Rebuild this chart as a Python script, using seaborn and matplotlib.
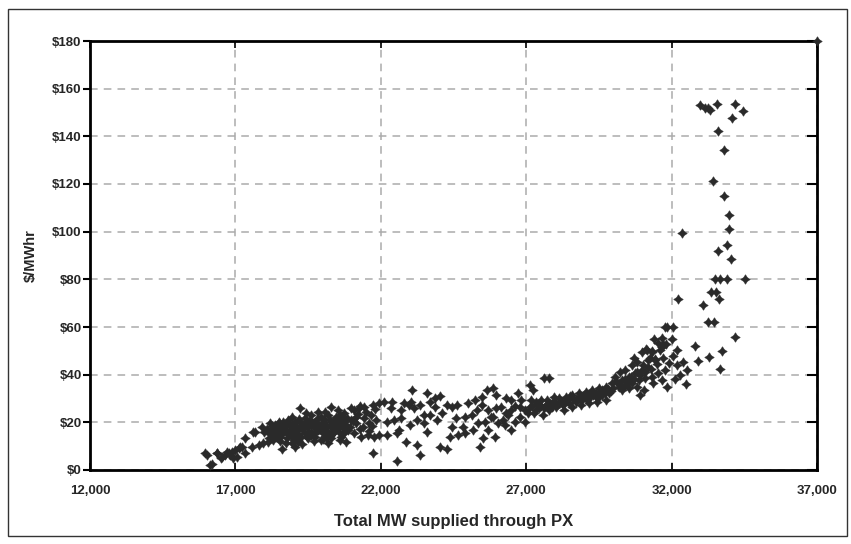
import numpy as np
import pandas as pd
import matplotlib
matplotlib.use("Agg")
from matplotlib import pyplot as plt
from matplotlib.path import Path
from matplotlib.patches import Rectangle
import seaborn as sns

# points, grouped by stretch of the curve
# (MW supplied, $/MWhr)
low_pts = [
  (15955, 7.1), (16034, 6.3), (16127, 2.1), (16205, 2.6), (16367, 7.1), (16375, 7.0),
  (16489, 4.9), (16546, 5.6), (16659, 6.3), (16711, 7.6), (16773, 7.3), (16830, 6.3),
  (16886, 7.7), (16917, 5.0), (17000, 8.4), (17057, 5.6), (17114, 9.1), (17158, 9.7),
  (17227, 9.8), (17318, 13.3), (17341, 7.0), (17605, 16.0), (17682, 16.1),
]

band_a_pts = [
  (17568, 9.8), (17795, 10.5), (17966, 11.2), (18136, 11.9), (18306, 12.6), (18477, 13.3),
  (18590, 8.7), (18193, 19.6), (18363, 18.9), (18534, 19.3), (18704, 18.9), (18818, 19.6),
  (18250, 16.8), (18420, 16.1), (18590, 16.8), (18760, 15.4), (18931, 16.8), (18306, 14.7),
  (18534, 14.0), (18760, 13.3), (18931, 14.0), (19045, 9.8), (18931, 11.2), (19159, 11.9),
  (19215, 25.9), (18477, 18.2), (18647, 20.3), (18100, 17.0), (18200, 15.0), (18400, 17.5),
  (18600, 15.0), (18700, 17.0), (18900, 18.0), (18500, 20.0), (18800, 21.0), (18931, 22.4),
  (19045, 20.3), (19272, 19.6), (19500, 18.2), (19727, 20.3), (19954, 22.4), (20068, 24.5),
  (20295, 26.6), (20522, 25.2), (20750, 23.8), (20977, 25.9), (19386, 21.7), (19613, 23.1),
  (19841, 24.5), (19159, 16.8), (19386, 15.4), (19613, 16.1), (19841, 16.8), (20068, 17.5),
  (20295, 18.2), (20522, 19.6), (20750, 20.3), (19272, 14.0), (19500, 13.3), (19727, 14.0),
  (19954, 12.6), (20181, 11.2), (20125, 14.0), (20352, 15.4), (20579, 16.1), (20806, 11.9),
  (20636, 14.0), (20863, 16.8), (20977, 21.0), (19159, 13.3), (19045, 14.7), (19556, 19.6),
  (19784, 18.9), (20011, 20.3), (20238, 21.0), (20465, 22.4), (20693, 21.7), (19443, 23.8),
  (19100, 18.0), (19300, 17.0), (19500, 16.0), (19700, 18.0), (19900, 17.0), (20100, 19.0),
  (20300, 20.0), (20500, 18.0), (20700, 17.5), (19200, 21.5), (19400, 20.0), (19800, 21.5),
  (20200, 23.0), (20400, 21.0), (20600, 23.0), (19000, 16.0), (19600, 14.5), (20000, 15.5),
  (20400, 16.0), (20800, 19.0), (18150, 13.5), (18350, 15.5), (18450, 19.5), (18650, 18.5),
  (18850, 15.0), (18950, 19.5), (19050, 17.5), (19150, 15.0), (19250, 19.0), (19350, 18.5),
  (19450, 14.0), (19550, 21.0), (19650, 19.5), (19750, 15.5), (19850, 19.5), (19950, 18.5),
  (20050, 21.5), (20150, 16.5), (20250, 14.5), (20350, 19.5), (20450, 17.0), (20550, 21.0),
  (20650, 19.0), (20750, 15.5), (20850, 22.0), (20950, 18.0), (18000, 16.0), (17900, 18.0),
  (18250, 18.5), (18550, 12.0), (18750, 11.5), (19000, 12.5), (19300, 11.0), (19700, 12.0),
  (20000, 13.0), (20300, 13.5), (20600, 12.5),
]

band_b_pts = [
  (21091, 25.2), (21261, 25.9), (21432, 26.6), (21716, 27.3), (21943, 28.0), (21148, 22.4),
  (21432, 21.7), (21659, 23.1), (21829, 21.0), (21148, 19.6), (21375, 18.2), (21602, 19.6),
  (21091, 15.4), (21318, 14.0), (21545, 14.7), (21773, 14.0), (21943, 14.7), (21716, 7.0),
  (22113, 28.7), (22397, 28.7), (22681, 25.2), (22454, 21.0), (22227, 14.7), (22568, 15.4),
  (22625, 16.8), (22852, 11.9), (22568, 3.9), (23250, 10.5), (23363, 6.3), (23079, 33.6),
  (22965, 27.3), (23136, 25.9), (23363, 27.3), (23590, 32.2), (23704, 28.7), (23874, 26.6),
  (23477, 23.1), (23704, 23.1), (23250, 21.0), (23477, 19.6), (23590, 16.1), (23022, 28.7),
  (22795, 28.0), (22341, 25.9), (23931, 21.0), (24045, 31.1), (23875, 30.1),
  (24272, 27.3), (24443, 26.6), (24613, 27.3), (24443, 18.2), (24386, 14.0), (24670, 14.7),
  (24045, 9.8), (24272, 8.7), (24840, 18.2), (24897, 22.4), (25125, 23.1), (25011, 28.0),
  (25238, 29.4), (25465, 30.8), (25636, 33.6), (25863, 34.3), (25465, 27.3), (25693, 25.2),
  (25806, 22.4), (25579, 20.3), (25352, 19.6), (25181, 16.8), (25522, 13.3), (25409, 9.8),
  (25920, 14.0), (26034, 19.6), (26204, 21.0), (26375, 23.1), (26488, 16.8), (26318, 30.1),
  (26488, 29.4), (26716, 32.2), (26829, 29.4), (26943, 25.2), (26773, 22.4), (26602, 20.3),
  (25977, 25.9), (26148, 26.6), (25977, 31.5), (26488, 25.2), (26261, 18.9), (25863, 22.4),
  (25693, 16.8), (24897, 15.4), (26943, 20.3), (21050, 20.5), (21200, 23.5), (21300, 17.0),
  (21500, 24.5), (21600, 16.5), (21800, 25.5), (21300, 26.8), (21700, 18.5), (22200, 20.0),
  (22700, 22.0), (23000, 19.0), (24600, 22.0), (24100, 24.0), (25300, 25.0), (26600, 27.0),
  (26300, 24.0), (26800, 26.5),
]

band_c_pts = [
  (27114, 35.7), (27227, 33.6), (27625, 38.5), (27795, 38.5), (27511, 29.4), (27114, 26.6),
  (27284, 23.8), (27454, 25.9), (27681, 27.3), (27909, 28.7), (28136, 30.1), (28363, 30.8),
  (28590, 31.5), (28818, 32.2), (29045, 32.9), (29272, 33.6), (29500, 34.3), (29727, 35.0),
  (29954, 36.4), (27795, 25.2), (28022, 26.6), (28250, 27.3), (28477, 28.0), (28704, 28.7),
  (28931, 29.4), (29159, 30.1), (29386, 30.8), (29613, 31.5), (29840, 32.2), (28306, 25.2),
  (28590, 26.6), (28874, 27.3), (29159, 28.0), (29443, 28.7), (29727, 29.4), (27341, 28.7),
  (27568, 23.1), (27966, 30.8), (28477, 30.1), (29045, 30.8), (29556, 32.9), (27200, 27.0),
  (27400, 27.5), (27600, 26.0), (27800, 28.0), (28000, 28.5), (28200, 29.0), (28400, 29.5),
  (28600, 30.0), (28800, 30.5), (29000, 31.5), (29200, 32.0), (29400, 32.5), (29600, 33.5),
  (29800, 34.0), (30000, 34.5), (30200, 36.0), (30400, 38.0), (30600, 39.0), (30800, 41.0),
  (31000, 44.0), (31200, 46.0),
  (30068, 39.2), (30238, 41.3), (30409, 42.0), (30636, 44.1), (30806, 45.5), (30977, 49.7),
  (31148, 50.4), (31318, 49.7), (31545, 53.2), (31659, 55.3), (31773, 59.9), (30295, 37.8),
  (30522, 39.2), (30750, 40.6), (30977, 42.0), (31204, 43.4), (31431, 46.2), (30181, 35.0),
  (30409, 35.7), (30636, 36.4), (30863, 37.8), (31091, 38.5), (31318, 39.2), (31545, 40.6),
  (31773, 42.0), (30295, 33.6), (30522, 34.3), (30806, 35.0), (30920, 31.5), (31034, 33.6),
  (31375, 36.4), (31659, 37.8), (31829, 35.0), (31261, 46.9), (31602, 50.4),
  (27050, 24.0), (27150, 29.5), (27350, 25.0), (27500, 27.0), (27700, 29.5), (27900, 26.5),
  (28100, 27.5), (28300, 28.5), (28500, 31.0), (28700, 29.5), (28900, 31.0), (29100, 29.5),
  (29300, 31.5), (29500, 30.5), (29700, 32.5), (29900, 33.0), (30100, 37.5), (30300, 35.0),
  (30500, 37.0), (30700, 38.0), (30900, 40.0), (31100, 41.0), (31300, 42.5), (31500, 44.5),
  (31700, 47.0), (31900, 45.0), (32050, 48.0), (31400, 55.0), (31800, 53.0), (30700, 47.0),
]

spike_pts = [
  (32977, 153.2), (33148, 151.9), (33252, 151.9), (33320, 151.0), (33562, 153.6), (34180, 153.6),
  (34456, 150.6), (34077, 147.7), (33596, 142.3), (33803, 134.3), (33424, 121.3), (33803, 115.0),
  (33974, 107.0), (33974, 101.0), (32358, 99.5), (33905, 94.4), (33596, 91.9), (34043, 88.5),
  (33492, 80.2), (33665, 80.2), (33905, 80.2), (34525, 80.2), (33355, 74.7), (33527, 74.7),
  (33630, 71.8), (32220, 71.8), (33080, 69.2), (33252, 62.1), (33458, 62.1), (34180, 55.8),
  (31842, 60.0), (32048, 60.0), (32014, 55.0), (32805, 52.0), (33733, 50.0), (31705, 53.0),
  (32908, 45.7), (33286, 47.4), (33665, 42.4), (32392, 45.3), (32530, 42.0), (32186, 50.4),
  (31120, 50.8), (31326, 50.0), (31430, 46.6), (31670, 51.6), (32100, 38.0), (32300, 40.0),
  (32500, 36.0), (32200, 44.0), (37000, 180.0),
]

x_ticks = [12000, 17000, 22000, 27000, 32000, 37000]
y_ticks = [0, 20, 40, 60, 80, 100, 120, 140, 160, 180]

all_pts = low_pts + band_a_pts + band_b_pts + band_c_pts + spike_pts
df = pd.DataFrame(all_pts, columns=["mw", "price"])

sns.set_style("white")
plt.rcParams['font.family'] = ['Liberation Sans', 'DejaVu Sans']
plt.rcParams['text.parse_math'] = False

# fat four-point diamond like the original symbols
star = Path([(0, 1), (0.4, 0.4), (1, 0), (0.4, -0.4), (0, -1),
             (-0.4, -0.4), (-1, 0), (-0.4, 0.4), (0, 1)], closed=True)

fig = plt.figure(figsize=(8.51, 5.44), dpi=100)
ax = fig.add_axes([90/851, 1 - 470/544, (817 - 90)/851, (470 - 41)/544])

sns.scatterplot(data=df, x="mw", y="price", marker=star, s=48,
                color="#2a2a2a", edgecolor="#2a2a2a", linewidth=0.3, ax=ax,
                zorder=3, clip_on=False)

ax.set_xlim(12000, 37000)
ax.set_ylim(0, 180)
ax.set_xticks(x_ticks)
ax.set_yticks(y_ticks)
ax.set_xticklabels([f"{v:,}" for v in x_ticks], fontweight="bold", fontsize=9.5)
ax.set_yticklabels([f"${v}" for v in y_ticks], fontweight="bold", fontsize=9.5)
ax.grid(True, color="#ababab", linestyle=(0, (5, 4)), linewidth=1.1)
ax.set_axisbelow(True)

for sp in ax.spines.values():
  sp.set_visible(True)
  sp.set_color("black")
  sp.set_linewidth(2)

ax.tick_params(axis="y", which="both", left=True, right=True, direction="out",
               length=5, width=1.5, color="black", pad=1)
ax.tick_params(axis="y", right=True, labelright=False)
ax.tick_params(axis="x", bottom=True, top=True, direction="in",
               length=5, width=1.2, color="black", pad=11)
for t in ax.yaxis.get_ticklines()[1::2]:
  t.set_marker(matplotlib.markers.TICKLEFT)
  t.set_markersize(7)

ax.set_xlabel("Total MW supplied through PX", fontweight="bold", fontsize=12, labelpad=12)
ax.set_ylabel("$/MWhr", fontweight="bold", fontsize=10.5, labelpad=10)

fig.patches.append(Rectangle((8/851, 1 - 536/544), (847 - 8)/851, (536 - 9)/544,
                             transform=fig.transFigure, fill=False,
                             edgecolor="#333333", linewidth=1))

plt.savefig("out.png", dpi=100)
plt.close()
